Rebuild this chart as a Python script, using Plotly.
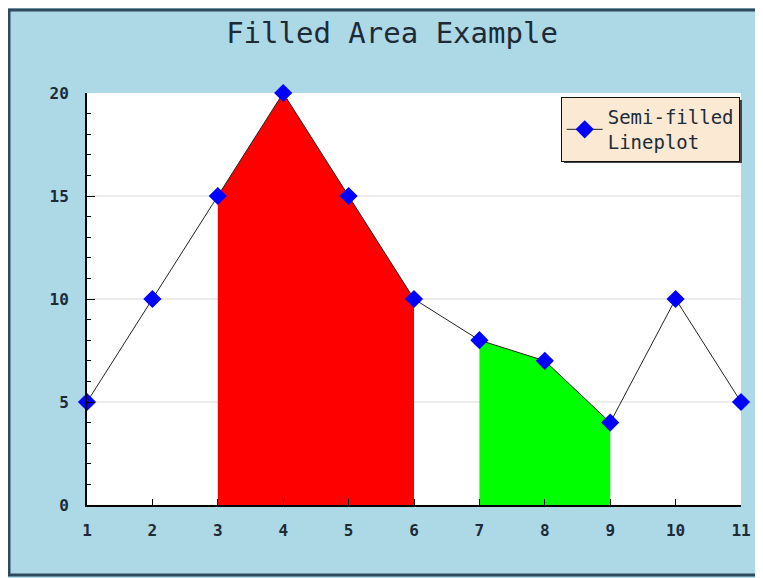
import plotly.graph_objects as go

# data
x_vals = [1, 2, 3, 4, 5, 6, 7, 8, 9, 10, 11]
y_vals = [5, 10, 15, 20, 15, 10, 8, 7, 4, 10, 5]
red_from, red_to = 3, 6
green_from, green_to = 7, 9

FONT = "DejaVu Sans Mono"
TEXT = "#1c2b36"

# figure is placed at (8, 8) in the page, so work in figure pixels
W, H = 755, 570
L, R, T, B = 79, 22, 85, 73
PW, PH = W - L - R, H - T - B


def px(x):
    return (x - L) / PW


def py(y):
    return (H - B - y) / PH


def segment(a, b):
    i0, i1 = x_vals.index(a), x_vals.index(b) + 1
    return x_vals[i0:i1], y_vals[i0:i1]


fig = go.Figure()

rx, ry = segment(red_from, red_to)
fig.add_scatter(x=rx, y=ry, fill="tozeroy", mode="none",
                fillcolor="#ff0000", showlegend=False, hoverinfo="skip")
gx, gy = segment(green_from, green_to)
fig.add_scatter(x=gx, y=gy, fill="tozeroy", mode="none",
                fillcolor="#00ff00", showlegend=False, hoverinfo="skip")

fig.add_scatter(
    x=x_vals, y=y_vals, mode="lines+markers",
    name="Semi-filled<br>Lineplot",
    line=dict(color="#222222", width=1),
    marker=dict(symbol="diamond", size=14, color="#0000ff"),
    cliponaxis=False,
)

fig.update_layout(
    width=W, height=H,
    margin=dict(l=L, r=R, t=T, b=B),
    paper_bgcolor="#add8e6",
    plot_bgcolor="#ffffff",
    title=dict(text="Filled Area Example", x=384 / W, xanchor="center",
               y=1 - 25 / H, yanchor="middle", xref="container", yref="container",
               font=dict(family=FONT, size=29, color=TEXT)),
    legend=dict(x=0.998, y=0.99, xanchor="right", yanchor="top",
                bgcolor="#fbe9d4", bordercolor="#111111", borderwidth=1,
                font=dict(family=FONT, size=19, color=TEXT),
                itemwidth=36, tracegroupgap=0),
    showlegend=True,
    xaxis=dict(range=[1, 11], tickmode="linear", tick0=1, dtick=1,
               showgrid=False, zeroline=False,
               showline=True, linecolor="#000000", linewidth=2,
               ticks="inside", ticklen=6, tickcolor="#000000",
               ticklabelstandoff=10,
               tickfont=dict(family=FONT, size=16, color=TEXT, weight="bold")),
    yaxis=dict(range=[0, 20], tickmode="linear", tick0=0, dtick=5,
               showgrid=True, gridcolor="#ececec", gridwidth=2,
               zeroline=False,
               showline=True, linecolor="#000000", linewidth=2,
               ticks="inside", ticklen=8, tickcolor="#000000",
               ticklabelstandoff=13,
               minor=dict(dtick=1, ticks="inside", ticklen=4,
                          tickcolor="#000000", showgrid=False),
               tickfont=dict(family=FONT, size=16, color=TEXT, weight="bold")),
)

# outer frame (its right side lies past the window edge)
fig.add_shape(type="rect", xref="paper", yref="paper",
              x0=px(1), x1=px(770), y0=py(567), y1=py(2),
              line=dict(color="#2e4a5c", width=3), layer="below")

# small drop shadow under the legend box
fig.add_shape(type="rect", xref="paper", yref="paper",
              x0=px(556), x1=px(734), y0=py(155), y1=py(92),
              fillcolor="#444444", line=dict(width=0), layer="above")

fig.write_html("out.html")
